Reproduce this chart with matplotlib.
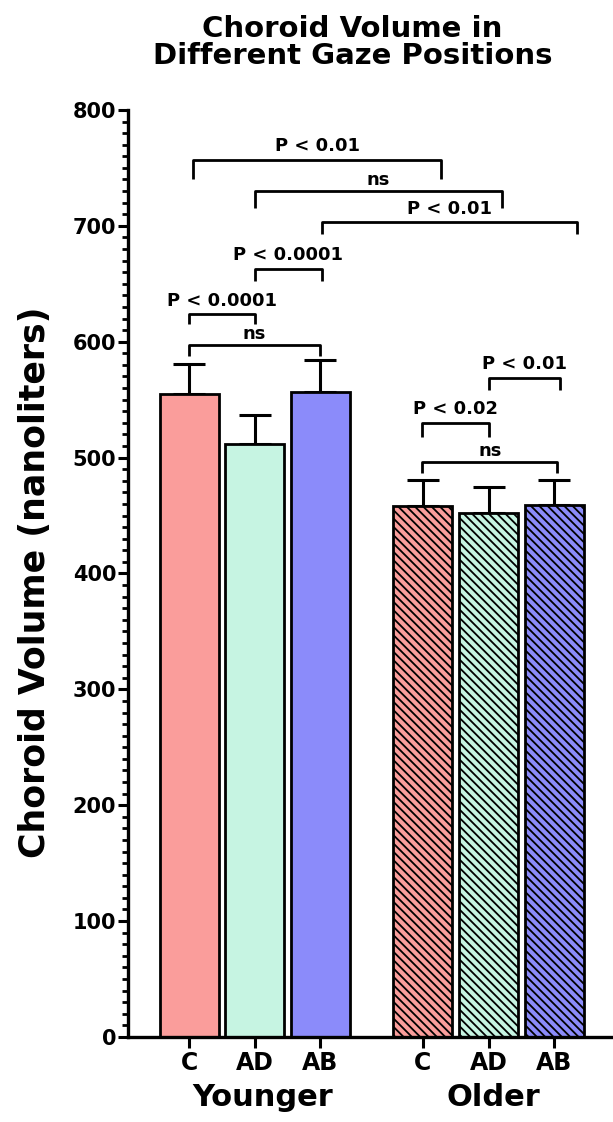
import matplotlib
matplotlib.use("Agg")
import matplotlib.pyplot as plt
import matplotlib.transforms as mtransforms
from matplotlib.ticker import MultipleLocator
import numpy as np

plt.rcParams["font.family"] = ["DejaVu Sans"]
plt.rcParams["font.weight"] = "bold"
plt.rcParams["hatch.linewidth"] = 1.3

# data
conditions = ["C", "AD", "AB"]
groups = ["Younger", "Older"]
younger_mean = [555, 512, 557]
younger_err = [26, 25, 27]
older_mean = [458, 452, 459]
older_err = [23, 23, 22]
colors = ["#fa9d9b", "#c6f4e2", "#8b8bfa"]

# brackets: x start, x end, y, drop, label
br_x1 = [0.06, 1.0, 2.03, 1.0, 0.0, 0.0, 3.56, 3.56, 4.58]
br_x2 = [3.85, 4.78, 5.92, 2.03, 1.0, 2.0, 5.62, 4.58, 5.66]
br_y = [757, 730, 703, 663, 624, 597, 496, 530, 569]
br_drop = [17, 15, 10, 11, 9, 9, 9, 12, 11]
br_text = ["P < 0.01", "ns", "P < 0.01", "P < 0.0001", "P < 0.0001", "ns",
           "ns", "P < 0.02", "P < 0.01"]

x_young = np.arange(3)
x_old = np.arange(3) + 3.57

fig = plt.figure(figsize=(6.13, 11.22), dpi=100)
ax = fig.add_axes([0.209, 0.0758, 0.791, 0.8262])

ax.bar(x_young, younger_mean, width=0.9, color=colors, edgecolor="black",
       linewidth=2.0, zorder=2)
ax.bar(x_old, older_mean, width=0.9, color=colors, edgecolor="black",
       linewidth=2.0, hatch="\\\\\\\\", zorder=2)
ax.errorbar(x_young, younger_mean, yerr=[np.zeros(3), younger_err], fmt="none",
            ecolor="black", elinewidth=2.2, capsize=11.5, capthick=2.2, zorder=1)
ax.errorbar(x_old, older_mean, yerr=[np.zeros(3), older_err], fmt="none",
            ecolor="black", elinewidth=2.2, capsize=11.5, capthick=2.2, zorder=1)

for x1, x2, y, d, t in zip(br_x1, br_x2, br_y, br_drop, br_text):
    ax.plot([x1, x1, x2, x2], [y - d, y, y, y - d], color="black", lw=2.0,
            solid_capstyle="butt", clip_on=False)
    off = 4.5 if t == "ns" else 6
    ax.annotate(t, ((x1 + x2) / 2, y), xytext=(0, off), textcoords="offset points",
                ha="center", va="baseline", fontsize=13, fontweight="bold")

ax.set_xlim(-0.93, 6.47)
ax.set_ylim(0, 800)
ax.yaxis.set_major_locator(MultipleLocator(100))
ax.yaxis.set_minor_locator(MultipleLocator(10))
ax.set_xticks(np.concatenate([x_young, x_old]))
ax.set_xticklabels(conditions * 2, fontsize=17, fontweight="bold")
ax.tick_params(axis="y", which="major", length=7.5, width=2.2, labelsize=15, pad=1)
ax.tick_params(axis="y", which="minor", length=4.5, width=2.0)
ax.tick_params(axis="x", which="major", length=8, width=2.2, pad=2)

for s in ["top", "right"]:
    ax.spines[s].set_visible(False)
for s in ["left", "bottom"]:
    ax.spines[s].set_linewidth(2.4)

ax.set_ylabel("Choroid Volume (nanoliters)", fontsize=25, fontweight="bold")
ax.yaxis.set_label_coords(-0.157, 0.49)

trans = mtransforms.blended_transform_factory(ax.transData, fig.transFigure)
ax.text(x_young.mean() + 0.13, 0.022, groups[0], transform=trans, ha="center",
        va="center", fontsize=22, fontweight="bold")
ax.text(x_old.mean() + 0.07, 0.022, groups[1], transform=trans, ha="center",
        va="center", fontsize=22, fontweight="bold")

fig.text(0.575, 0.962, "Choroid Volume in\nDifferent Gaze Positions",
         ha="center", va="center", fontsize=21, fontweight="bold",
         linespacing=0.95)

fig.savefig("out.png", dpi=100)
